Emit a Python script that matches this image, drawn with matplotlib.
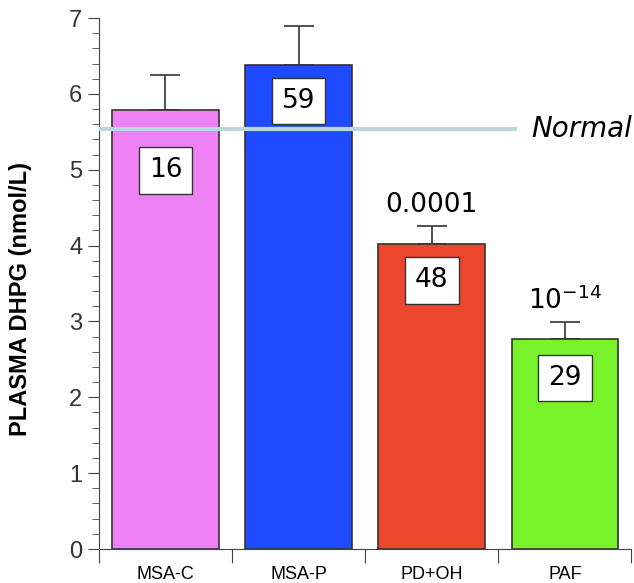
import numpy as np
import matplotlib.pyplot as plt
from matplotlib.ticker import MultipleLocator

groups = ["MSA-C", "MSA-P", "PD+OH", "PAF"]
means = [5.79, 6.38, 4.02, 2.77]
sems = [0.46, 0.51, 0.24, 0.22]
n_labels = ["16", "59", "48", "29"]
p_labels = ["", "", "0.0001", "$\\mathregular{10^{-14}}$"]
colors = ["#ee82f5", "#1e4bff", "#ec462f", "#78f22a"]
normal = 5.54

fig = plt.figure(figsize=(6.34, 5.83), dpi=100)
ax = fig.add_axes([0.156, 0.0583, 0.84, 0.9108])

x = np.arange(len(groups)) + 0.5
ax.bar(x, means, width=0.8, color=colors, edgecolor="#333333", linewidth=1.2, zorder=2)
ax.errorbar(x, means, yerr=[np.zeros(len(sems)), sems], fmt="none",
            ecolor="#333333", elinewidth=1.2, capsize=11, capthick=1.2, zorder=1)

# normal level
ax.plot([0, 3.14], [normal, normal], color="#bcd6dd", linewidth=3, zorder=3,
        solid_capstyle="butt")
ax.text(3.25, normal, "Normal", style="italic", fontsize=20, va="center", ha="left")

# n per group in white boxes
label_y = [4.99, 5.9, 3.54, 2.26]
for xi, yi, t in zip(x, label_y, n_labels):
    ax.text(xi, yi, t, fontsize=19, ha="center", va="center", zorder=4,
            bbox=dict(boxstyle="square,pad=0.38", fc="white", ec="#333333", lw=1))

for xi, m, s, t in zip(x, means, sems, p_labels):
    if t:
        ax.text(xi, m + s + 0.1, t, fontsize=19, ha="center", va="bottom")

ax.set_xlim(0, 4)
ax.set_ylim(0, 7)
ax.set_xticks([0, 1, 2, 3, 4])
ax.set_xticklabels([])
ax.set_xticks(x, minor=True)
ax.set_xticklabels(groups, minor=True, fontsize=13, family="Liberation Sans")
ax.tick_params(axis="x", which="major", length=10, direction="out", color="#444444")
ax.tick_params(axis="x", which="minor", length=0, pad=12)
ax.yaxis.set_major_locator(MultipleLocator(1))
ax.yaxis.set_minor_locator(MultipleLocator(0.2))
ax.tick_params(axis="y", which="major", length=8, labelsize=17, color="#444444", pad=4)
ax.tick_params(axis="y", which="minor", length=5, color="#444444")
for lab in ax.get_yticklabels():
    lab.set_family("Liberation Sans")
    lab.set_color("#333333")

ax.spines["top"].set_visible(False)
ax.spines["right"].set_visible(False)
ax.spines["left"].set_color("#444444")
ax.spines["bottom"].set_color("#444444")

ax.set_ylabel("PLASMA DHPG (nmol/L)", fontsize=17, fontweight="bold",
              family="Liberation Sans")
ax.yaxis.set_label_coords(-0.125, 0.47)

plt.savefig("out.png", dpi=100)
